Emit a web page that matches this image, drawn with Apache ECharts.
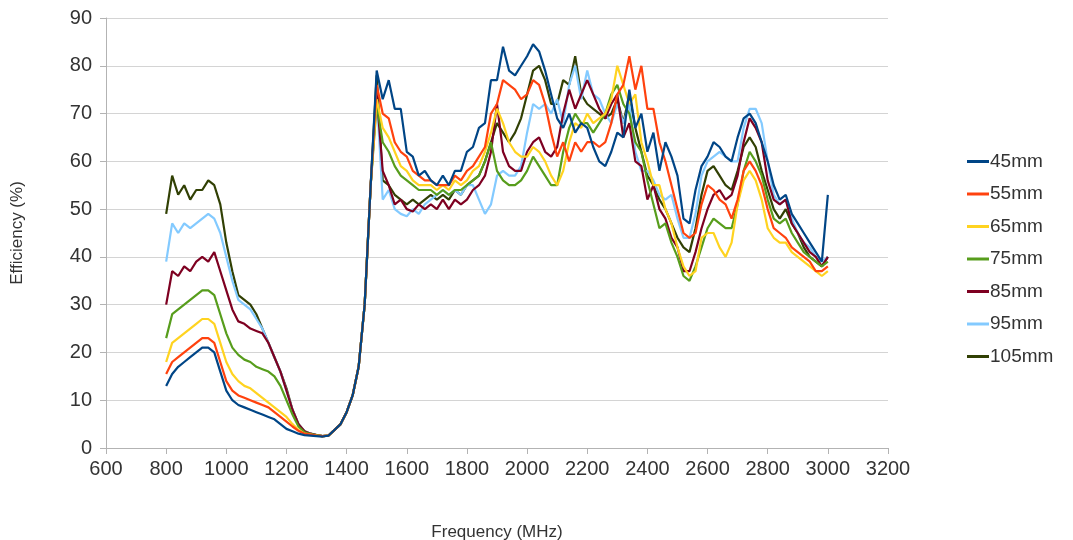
<!DOCTYPE html>
<html>
<head>
<meta charset="utf-8">
<script src="https://cdn.jsdelivr.net/npm/echarts@6/dist/echarts.min.js"></script>
<style>
html,body{margin:0;padding:0;background:#fff;}
#chart{width:1073px;height:540px;}
</style>
</head>
<body>
<div id="chart"></div>
<script>
// Frequencies 800..3000 MHz, 20 MHz step
const freqStart = 800, freqStep = 20, freqCount = 111;
const seriesNames = ['45mm','55mm','65mm','75mm','85mm','95mm','105mm'];
const xTicks = [600,800,1000,1200,1400,1600,1800,2000,2200,2400,2600,2800,3000,3200];
const yTicks = [0,10,20,30,40,50,60,70,80,90];

const s45 = [
13,15.5,17,18,19,20,21,21,20,16,
12,10,9,8.5,8,7.5,7,6.5,6,5,
4,3.5,3,2.7,2.6,2.5,2.4,2.6,3.8,5,
7.5,11,17,30,55,79,73,77,71,71,
62,61,57,58,56,55,57,55,58,58,
62,63,67,68,77,77,84,79,78,80,
82,84.5,83,79,74,69,67,70,66,68,
67,63,60,59,62,66,65,75,67,70,
62,66,58,64,61,57,48,47,54,59,
61,64,63,61,60,65,69,70,68,64,
60,55,52,53,49,47,45,43,41,39,
53];
const s55 = [
15.5,18,19,20,21,22,23,23,22,18,
14,12,11,10.5,10,9.5,9,8.5,7.5,6.5,
5.5,4.5,3.6,3,2.8,2.6,2.5,2.6,3.8,5,
7.5,11,17,30,55,76,70,69,64,62,
61,58,57,56,56,55,55,55,57,56,
58,59,61,63,70,72,77,76,75,73,
74,77,76,72,66,61,64,60,64,62,
64,64,63,64,68,74,76,82,75,80,
71,71,64,60,55,50,45,44,45,51,
55,54,52,51,48,52,58,60,58,55,
50,46,45,44,42,41,40,39,37,37,
38];
const s65 = [
18,22,23,24,25,26,27,27,26,22,
18,15.5,14,13,12.5,11.5,10.5,9.5,8.5,7.5,
6.5,5,3.8,3,2.8,2.6,2.5,2.6,3.8,5,
7.5,11,17,30,55,73,67,65,62,59,
58,56,55,55,55,54,55,54,56,55,
56,58,59,62,66,71,68,64,62,61,
61,63,62,60,57,55,58,64,68,67,
70,68,69,70,73,80,76,72,74,64,
60,55,55,50,47,42,38,36,37,44,
45,45,42,40,43,51,56,58,56,52,
46,44,43,43,41,40,39,38,37,36,
37];
const s75 = [
23,28,29,30,31,32,33,33,32,28,
24,21,19.5,18.5,18,17,16.5,16,15,13,
10,7,4.5,3.3,2.9,2.7,2.5,2.6,3.8,5,
7.5,11,17,30,55,72,64,62,59,57,
56,55,54,54,54,53,54,53,54,54,
55,56,57,60,64,58,56,55,55,56,
58,61,59,57,55,55,62,67,70,68,
68,66,68,70,74,76,72,70,64,62,
56,51,46,47,43,40,36,35,38,42,
46,48,47,46,46,51,58,62,60,57,
52,48,47,48,45,43,41,40,39,38,
39];
const s85 = [
30,37,36,38,37,39,40,39,41,37,
33,29,26.5,26,25,24.5,24,22,19,16,
12,8,5,3.5,3,2.7,2.5,2.6,3.8,5,
7.5,11,17,30,55,74,58,55,51,52,
50,49.5,51,50,51,50,52,50,52,51,
52,54,55,57,62,72,62,59,58,58,
62,64,65,62,61,63,70,75,71,74,
77,74,71,69,72,74,65,68,60,59,
52,55,50,48,44,42,37,37,41,46,
50,53,54,52,53,57,64,69,67,64,
56,52,51,52,47,45,43,41,40,38,
40];
const s95 = [
39,47,45,47,46,47,48,49,48,45,
40,35,31,30,29,27,25,22,19,16,
12,8,5,3.5,3,2.7,2.5,2.6,3.8,5,
7.5,11,17,30,55,74,52,54,50,49,
48.5,50,49,51,52,53,54,53,54,53,
55,55,52,49,51,57,58,57,57,59,
66,72,71,72,70,73,68,76,80,73,
79,74,73,70,68,72,68,72,62,58,
58,56,53,52,53,48,44,44,49,57,
60,61,62,61,60,60,67,71,71,68,
60,53,51,52,48,45,43,42,40,39,
40];
const s105 = [
49,57,53,55,52,54,54,56,55,51,
43,37,32,31,30,28,25,22,19,16,
12.5,8,5,3.5,3,2.7,2.5,2.6,3.8,5,
7.5,11,17,30,55,78,56,55,53,52,
51,52,51,52,53,52,53,52,54,53,
55,56,57,60,64,68,66,64,66,69,
74,79,80,77,72,72,77,76,82,74,
72,71,70,69,70,73,68,74,67,62,
57,55,52,50,47,44,42,41,46,53,
58,59,57,55,54,58,63,65,63,58,
54,50,48,50,47,45,42,40,39,38,
40];

const seriesValues = [s45,s55,s65,s75,s85,s95,s105];
const colors = ['#004586','#ff420e','#ffd320','#579d1c','#7e0021','#83caff','#314004'];
const freqs = [];
for (let i = 0; i < freqCount; i++) freqs.push(freqStart + i * freqStep);

const chart = echarts.init(document.getElementById('chart'), null, {renderer: 'canvas'});
const font = 'Liberation Sans, Arial, sans-serif';

const option = {
  backgroundColor: '#ffffff',
  animation: false,
  color: colors,
  grid: {left: 106, right: 185, top: 18, bottom: 92, containLabel: false, outerBoundsMode: 'none'},
  legend: {
    orient: 'vertical',
    left: 962,
    top: 147,
    itemGap: 13.5,
    itemWidth: 22,
    itemHeight: 3,
    icon: 'rect',
    textStyle: {fontFamily: font, fontSize: 19, color: '#333', lineHeight: 18, padding: [0,0,0,-4]},
    data: seriesNames
  },
  xAxis: {
    type: 'value',
    min: xTicks[0],
    max: xTicks[xTicks.length - 1],
    interval: 200,
    name: 'Frequency (MHz)',
    nameLocation: 'middle',
    nameGap: 76,
    nameTextStyle: {fontFamily: font, fontSize: 17, color: '#333'},
    axisLine: {show: true, lineStyle: {color: '#b3b3b3', width: 1}},
    axisTick: {show: true, length: 6, lineStyle: {color: '#b3b3b3'}},
    axisLabel: {fontFamily: font, fontSize: 20, color: '#333', margin: 11, showMinLabel: true, showMaxLabel: true,
      formatter: v => String(v)},
    splitLine: {show: false}
  },
  yAxis: {
    type: 'value',
    min: yTicks[0],
    max: yTicks[yTicks.length - 1],
    interval: 10,
    name: 'Efficiency (%)',
    nameLocation: 'middle',
    nameGap: 80,
    nameTextStyle: {fontFamily: font, fontSize: 17, color: '#333'},
    axisLine: {show: true, lineStyle: {color: '#b3b3b3', width: 1}},
    axisTick: {show: true, length: 6, lineStyle: {color: '#b3b3b3'}},
    axisLabel: {fontFamily: font, fontSize: 20, color: '#333', margin: 14, formatter: v => String(v)},
    splitLine: {show: true, lineStyle: {color: '#d4d4d4', width: 1}}
  },
  series: seriesNames.map((name, k) => ({
    name: name,
    type: 'line',
    showSymbol: false,
    symbol: 'none',
    z: 10 - k,
    lineStyle: {width: 2.2, color: colors[k]},
    itemStyle: {color: colors[k]},
    data: freqs.map((f, i) => [f, seriesValues[k][i]])
  }))
};
chart.setOption(option);
</script>
</body>
</html>
